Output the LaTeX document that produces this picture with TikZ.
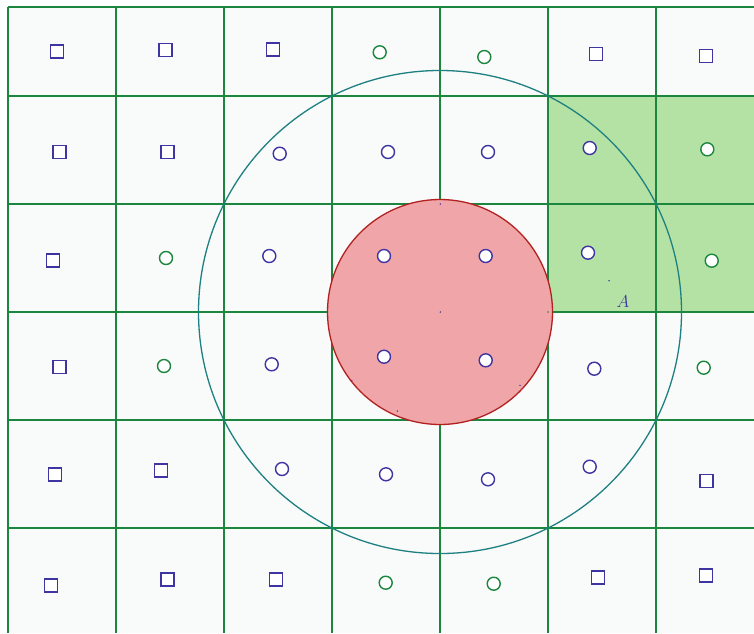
\documentclass[tikz,border=0pt]{standalone}
\usepackage{tikz}
\definecolor{gridgreen}{RGB}{28,134,62}
\definecolor{markblue}{RGB}{62,52,162}
\definecolor{tealc}{RGB}{30,128,128}
\definecolor{redfill}{RGB}{240,166,168}
\definecolor{redline}{RGB}{178,32,32}
\definecolor{greenfill}{RGB}{180,226,164}
\definecolor{bgc}{RGB}{249,250,250}
\tikzset{
  gridline/.style={draw=gridgreen, line width=2pt},
  sqmark/.style={draw=markblue, fill=white, line width=1.4pt, minimum size=13pt, inner sep=0pt, rectangle},
  bcmark/.style={draw=markblue, fill=white, line width=1.4pt, minimum size=13pt, inner sep=0pt, circle},
  gcmark/.style={draw=gridgreen, fill=white, line width=1.4pt, minimum size=13pt, inner sep=0pt, circle},
  tinydot/.style={fill=markblue, circle, inner sep=0pt, minimum size=1.6pt},
}
\begin{document}
\begin{tikzpicture}[x=1pt, y=-1pt]
\useasboundingbox (0,0) rectangle (754,633);
\fill[white] (0,0) rectangle (754,633);
\fill[bgc] (8,7) rectangle (754,633);
\fill[greenfill] (548,96) rectangle (754,312);
% grid
\foreach \x in {8,116,224,332,440,548,656} \draw[gridline] (\x,7) -- (\x,633);
\foreach \y in {7,96,204,312,420,528} \draw[gridline] (8,\y) -- (754,\y);
% circles
\coordinate (O) at (440,312);
\draw[tealc, line width=1.3pt] (O) circle (241.5);
\filldraw[fill=redfill, draw=redline, line width=1.3pt] (O) circle (112.5);
% row 0
\node[sqmark] (s00) at (57,51.5) {};
\node[sqmark] (s01) at (165.3,49.7) {};
\node[sqmark] (s02) at (273,49.5) {};
\node[gcmark] (c03) at (379.7,52.3) {};
\node[gcmark] (c04) at (484.3,57) {};
\node[sqmark] (s05) at (596,54) {};
\node[sqmark] (s06) at (706,56) {};
% row 1
\node[sqmark] (s10) at (59.3,152) {};
\node[sqmark] (s11) at (167.3,152) {};
\node[bcmark] (c12) at (279.7,153.7) {};
\node[bcmark] (c13) at (388,152) {};
\node[bcmark] (c14) at (488,152) {};
\node[bcmark] (c15) at (589.7,148) {};
\node[gcmark] (c16) at (707.3,149.3) {};
% row 2
\node[sqmark] (s20) at (53,260.3) {};
\node[gcmark] (c21) at (166,258) {};
\node[bcmark] (c22) at (269.3,256) {};
\node[bcmark] (c23) at (384,256) {};
\node[bcmark] (c24) at (485.7,256) {};
\node[bcmark] (c25) at (588,252.7) {};
\node[gcmark] (c26) at (711.7,260.7) {};
% row 3
\node[sqmark] (s30) at (59.3,366.7) {};
\node[gcmark] (c31) at (164,366) {};
\node[bcmark] (c32) at (271.7,364.3) {};
\node[bcmark] (c33) at (384,356.7) {};
\node[bcmark] (c34) at (485.7,360.3) {};
\node[bcmark] (c35) at (594.3,368.7) {};
\node[gcmark] (c36) at (703.7,367.7) {};
% row 4
\node[sqmark] (s40) at (55,474.5) {};
\node[sqmark] (s41) at (161,470.5) {};
\node[bcmark] (c42) at (282,469) {};
\node[bcmark] (c43) at (386,474.3) {};
\node[bcmark] (c44) at (488,479.3) {};
\node[bcmark] (c45) at (589.7,466.7) {};
\node[sqmark] (s46) at (706.3,481) {};
% row 5
\node[sqmark] (s50) at (51,585.3) {};
\node[sqmark] (s51) at (167.3,579.3) {};
\node[sqmark] (s52) at (275.7,579.3) {};
\node[gcmark] (c53) at (385.7,582.7) {};
\node[gcmark] (c54) at (493.7,583.7) {};
\node[sqmark] (s55) at (598,577.3) {};
\node[sqmark] (s56) at (706,575.3) {};
% tiny dots
\node[tinydot] (d1) at (440.3,204) {};
\node[tinydot] (d2) at (440.3,312) {};
\node[tinydot, fill=gridgreen] (d3) at (548,312) {};
\node[tinydot] (d4) at (351.7,380.7) {};
\node[tinydot] (d5) at (397.3,411) {};
\node[tinydot] (d6) at (520,385.3) {};
\node[tinydot] (d7) at (609,280.7) {};
% label
\node[text=markblue, font=\fontsize{19}{22}\selectfont, inner sep=0pt] (lblA) at (623,301.5) {$A$};
\end{tikzpicture}
\end{document}
